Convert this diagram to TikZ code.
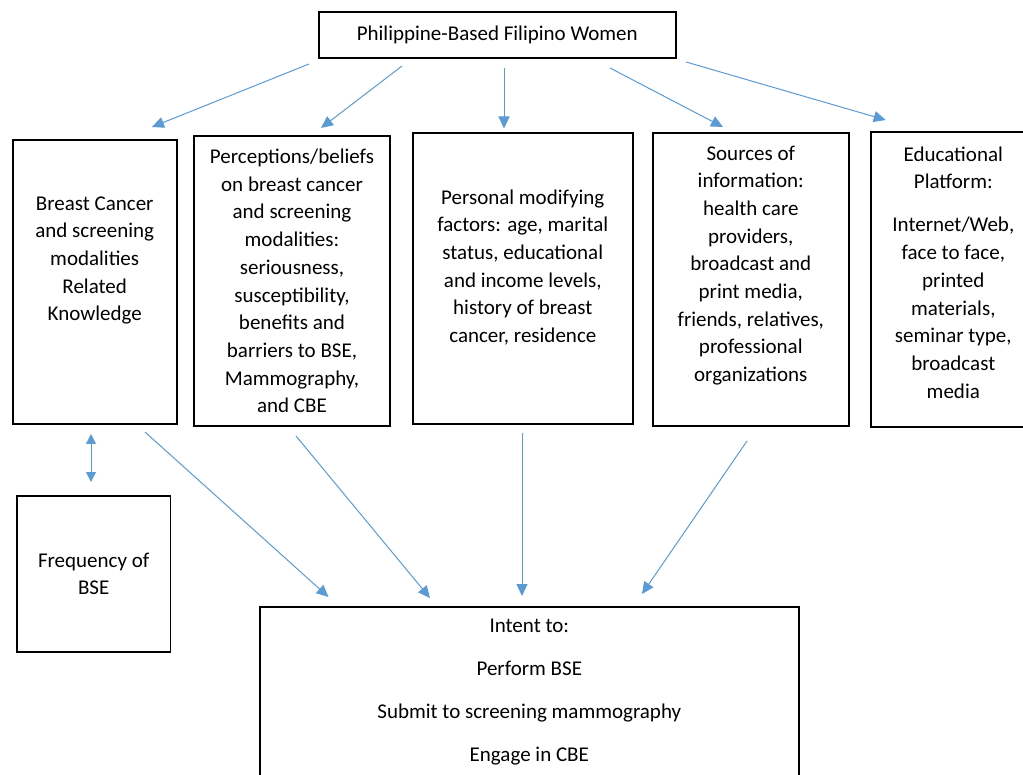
\documentclass[tikz,border=0pt]{standalone}
\usepackage{fontspec}
\setmainfont{Carlito}
\usetikzlibrary{arrows.meta,positioning}

\definecolor{arrowblue}{RGB}{91,155,213}

\tikzset{
  rect/.style={draw=black,line width=1.8pt,rectangle,inner sep=0pt},
  txt/.style={align=center,inner sep=0pt,font=\fontsize{21}{27.7}\selectfont},
  flow/.style={draw=arrowblue,line width=1pt,-{Triangle[length=12pt,width=11pt]},arrowblue},
  both/.style={draw=arrowblue,line width=1pt,{Triangle[length=10pt,width=10pt]}-{Triangle[length=10pt,width=10pt]},arrowblue},
}

\begin{document}
\begin{tikzpicture}[x=1pt,y=-1pt]

\path[use as bounding box,fill=white] (0,0) rectangle (1023,775);

% top box
\node[rect,txt,minimum width=356.7,minimum height=46] (women) at (497.3,35) {Philippine-Based Filipino Women};

% middle row
\node[rect,minimum width=164,minimum height=284] (know) at (94.7,281.8) {};
\node[txt] (knowtxt) at (94.7,260.5) {Breast Cancer\\and screening\\modalities\\Related\\Knowledge};

\node[rect,txt,minimum width=196,minimum height=290] (perc) at (292,281) {Perceptions/beliefs\\on breast cancer\\and screening\\modalities:\\seriousness,\\susceptibility,\\benefits and\\barriers to BSE,\\Mammography,\\and CBE};

\node[rect,minimum width=219.7,minimum height=291.3] (pers) at (522.8,278.3) {};
\node[txt] (perstxt) at (522.8,267.5) {Personal modifying\\factors: age, marital\\status, educational\\and income levels,\\history of breast\\cancer, residence};

\node[rect,minimum width=195.7,minimum height=293.3] (src) at (750.8,279.3) {};
\node[txt] (srctxt) at (750.8,265.5) {Sources of\\information:\\health care\\providers,\\broadcast and\\print media,\\friends, relatives,\\professional\\organizations};

\node[rect,minimum width=165,minimum height=294.7] (edu) at (953.3,279.3) {};
\node[txt] (edutxt) at (953.3,272.5) {Educational\\Platform:\\[15.3pt]Internet/Web,\\face to face,\\printed\\materials,\\seminar type,\\broadcast\\media};

% bottom row
\node[rect,txt,minimum width=153.5,minimum height=155.7] (freq) at (93.7,573.8) {Frequency of\\BSE};

\node[rect,minimum width=538.6,minimum height=193] (intent) at (529.3,703.5) {};
\node[txt] (intenttxt) at (529.3,692.5) {Intent to:\\[15.3pt]Perform BSE\\[15.3pt]Submit to screening mammography\\[15.3pt]Engage in CBE};

% arrow ends
\coordinate (w1) at (309,64);   \coordinate (k1) at (152,127);
\coordinate (w2) at (402,66);   \coordinate (p1) at (321,128);
\coordinate (w3) at (504,68);   \coordinate (m1) at (504,128.5);
\coordinate (w4) at (610,68);   \coordinate (s1) at (723,127);
\coordinate (w5) at (686,62);   \coordinate (e1) at (885.7,120);
\coordinate (k2) at (91,434);   \coordinate (f1) at (91,482);
\coordinate (k3) at (145,432);  \coordinate (i1) at (328.5,597);
\coordinate (p2) at (296,436);  \coordinate (i2) at (430,598);
\coordinate (m2) at (522,433);  \coordinate (i3) at (522,596);
\coordinate (s2) at (747,441);  \coordinate (i4) at (642,594);

\draw[flow] (w1) -- (k1);
\draw[flow] (w2) -- (p1);
\draw[flow] (w3) -- (m1);
\draw[flow] (w4) -- (s1);
\draw[flow] (w5) -- (e1);

\draw[both] (k2) -- (f1);

\draw[flow] (k3) -- (i1);
\draw[flow] (p2) -- (i2);
\draw[flow] (m2) -- (i3);
\draw[flow] (s2) -- (i4);
\end{tikzpicture}
\end{document}
